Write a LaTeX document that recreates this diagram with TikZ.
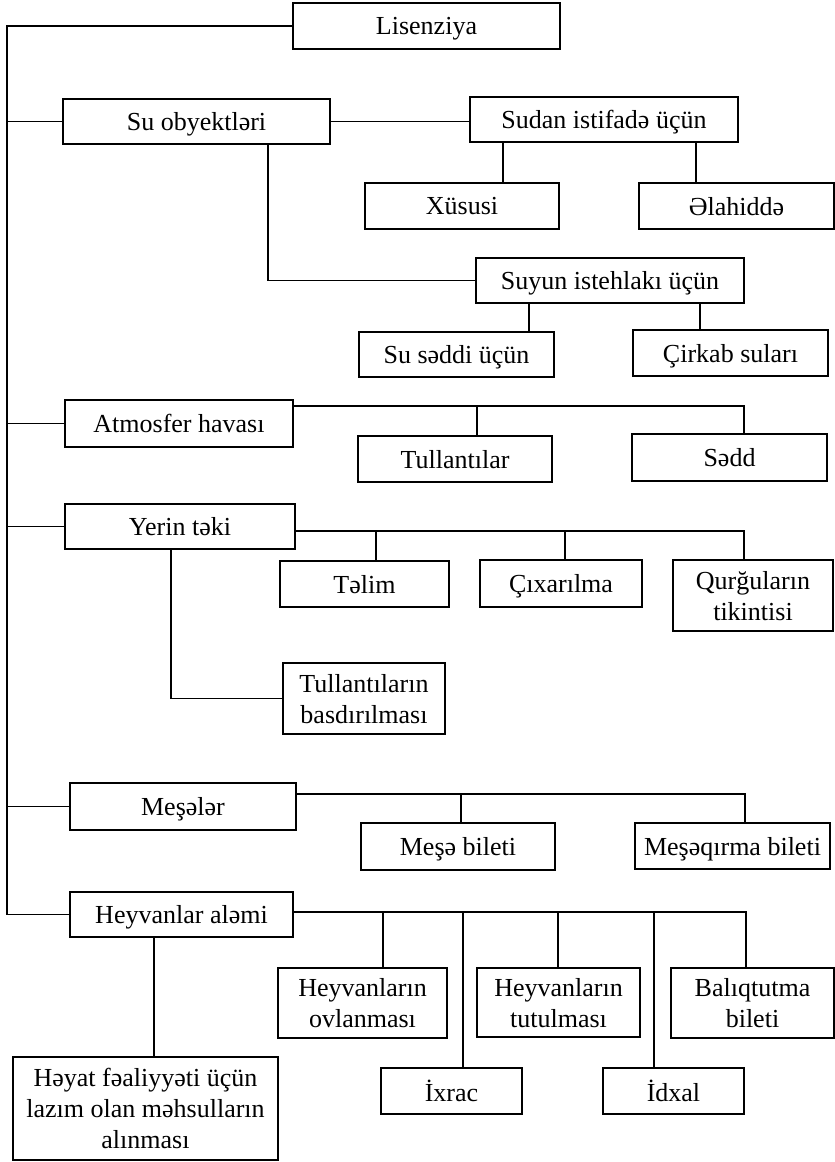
\documentclass[tikz,border=0pt]{standalone}
\usepackage{fontspec}
\setmainfont{Liberation Serif}
\begin{document}
\begin{tikzpicture}[x=1pt,y=-1pt,
  box/.style={draw, line width=1.6pt, inner sep=0pt, align=center, text depth=0pt,
    font=\fontsize{26}{31}\selectfont},
  conn/.style={line width=1.6pt}]
\useasboundingbox (0,0) rectangle (835,1162);
% boxes
\node[box, minimum width=267, minimum height=46] (lis) at (426.5,26) {Lisenziya};
\node[box, minimum width=267, minimum height=45] (su) at (196.5,121.5) {Su obyektləri};
\node[box, minimum width=268, minimum height=45] (sudan) at (604,119.5) {Sudan istifadə üçün};
\node[box, minimum width=194, minimum height=46] (xus) at (462,206) {Xüsusi};
\node[box, minimum width=195, minimum height=46] (ela) at (736.5,206) {Əlahiddə};
\node[box, minimum width=268, minimum height=45] (suyun) at (610,280.5) {Suyun istehlakı üçün};
\node[box, minimum width=195, minimum height=45] (sedd) at (456.5,354.5) {Su səddi üçün};
\node[box, minimum width=195, minimum height=46] (cirk) at (730.5,353) {Çirkab suları};
\node[box, minimum width=228, minimum height=47] (atm) at (179,423.5) {Atmosfer havası};
\node[box, minimum width=194, minimum height=46] (tull) at (455,459) {Tullantılar};
\node[box, minimum width=195, minimum height=47] (sadd) at (729.5,457.5) {Sədd};
\node[box, minimum width=230, minimum height=45] (yer) at (180,526.5) {Yerin təki};
\node[box, minimum width=169, minimum height=46] (telim) at (364.5,584) {Təlim};
\node[box, minimum width=162, minimum height=47] (cix) at (561,583.5) {Çıxarılma};
\node[box, minimum width=160, minimum height=71] (qurg) at (753,595.5) {Qurğuların\\tikintisi};
\node[box, minimum width=162, minimum height=71] (tullb) at (364,698.5) {Tullantıların\\basdırılması};
\node[box, minimum width=226, minimum height=47] (mes) at (183,806.5) {Meşələr};
\node[box, minimum width=194, minimum height=47] (mbil) at (458,846.5) {Meşə bileti};
\node[box, minimum width=195, minimum height=46] (mqir) at (732.5,846) {Meşəqırma bileti};
\node[box, minimum width=223, minimum height=45] (hey) at (181.5,914.5) {Heyvanlar aləmi};
\node[box, minimum width=169, minimum height=70] (hov) at (362.5,1003) {Heyvanların\\ovlanması};
\node[box, minimum width=141, minimum height=46] (ixr) at (451.5,1091) {İxrac};
\node[box, minimum width=163, minimum height=69] (htut) at (558.5,1002.5) {Heyvanların\\tutulması};
\node[box, minimum width=141, minimum height=46] (idx) at (673.5,1091) {İdxal};
\node[box, minimum width=163, minimum height=70] (bal) at (752.5,1003) {Balıqtutma\\bileti};
\node[box, minimum width=265, minimum height=103] (heyat) at (145.5,1108.5) {Həyat fəaliyyəti üçün\\lazım olan məhsulların\\alınması};
% helper coordinates
\coordinate (sp) at (7,0);
\coordinate (k1) at (503,0);
\coordinate (k2) at (696,0);
\coordinate (k3) at (268,0);
\coordinate (k4) at (529,0);
\coordinate (k5) at (700,0);
\coordinate (k6) at (477,0);
\coordinate (k7) at (376,0);
\coordinate (k8) at (565,0);
\coordinate (k9) at (171,0);
\coordinate (k10) at (461,0);
\coordinate (k11) at (383,0);
\coordinate (k12) at (463,0);
\coordinate (k13) at (558,0);
\coordinate (k14) at (654,0);
\coordinate (k15) at (154,0);
\coordinate (bA) at (744,406);
\coordinate (bB) at (744,531);
\coordinate (bC) at (745,794);
\coordinate (bD) at (746,912);
% spine
\draw[conn] (lis.west) -- (lis.west -| sp) -- (hey.west -| sp) -- (hey.west);
\foreach \n in {su,atm,yer,mes} \draw[conn] (\n.west -| sp) -- (\n.west);
% water
\draw[conn] (su.east) -- (su.east -| sudan.west);
\draw[conn] (sudan.south -| k1) -- (xus.north -| k1);
\draw[conn] (sudan.south -| k2) -- (ela.north -| k2);
\draw[conn] (su.south -| k3) |- (suyun.west);
\draw[conn] (suyun.south -| k4) -- (sedd.north -| k4);
\draw[conn] (suyun.south -| k5) -- (cirk.north -| k5);
% atmosphere
\draw[conn] (atm.east |- bA) -- (bA) -- (bA |- sadd.north);
\draw[conn] (k6 |- bA) -- (tull.north -| k6);
% subsoil
\draw[conn] (yer.east |- bB) -- (bB) -- (bB |- qurg.north);
\draw[conn] (k7 |- bB) -- (telim.north -| k7);
\draw[conn] (k8 |- bB) -- (cix.north -| k8);
\draw[conn] (yer.south -| k9) |- (tullb.west);
% forests
\draw[conn] (mes.east |- bC) -- (bC) -- (bC |- mqir.north);
\draw[conn] (k10 |- bC) -- (mbil.north -| k10);
% animals
\draw[conn] (hey.east |- bD) -- (bD) -- (bD |- bal.north);
\draw[conn] (k11 |- bD) -- (hov.north -| k11);
\draw[conn] (k12 |- bD) -- (ixr.north -| k12);
\draw[conn] (k13 |- bD) -- (htut.north -| k13);
\draw[conn] (k14 |- bD) -- (idx.north -| k14);
\draw[conn] (hey.south -| k15) -- (heyat.north -| k15);
\end{tikzpicture}
\end{document}
